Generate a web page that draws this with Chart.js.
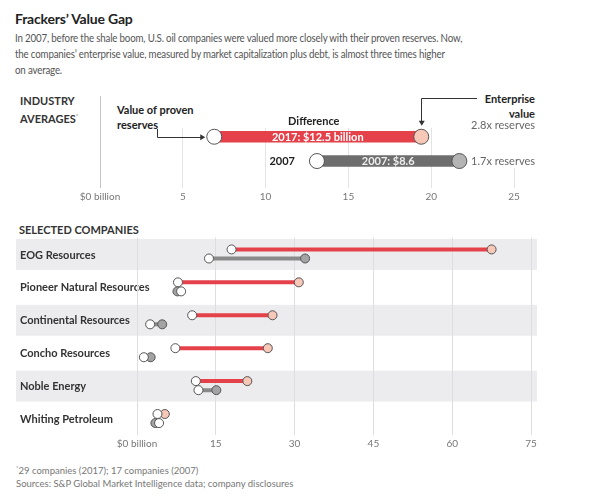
<!DOCTYPE html>
<html lang="en">
<head>
<meta charset="UTF-8">
<title>Frackers' Value Gap</title>
<script src="https://cdn.jsdelivr.net/npm/chart.js"></script>
<style>
    body { margin: 0; background: #fff; font-family: Lato, "Open Sans", sans-serif; color: #222; }
    #page { position: relative; width: 590px; height: 504px; overflow: hidden; }
    .t { position: absolute; white-space: nowrap; }
    .title { left: 15px; top: 9px; font-size: 14px; letter-spacing: -0.2px; font-weight: bold; line-height: 20px; color: #222; }
    .sub { left: 15px; top: 30px; font-size: 11px; letter-spacing: -0.2px; line-height: 15.8px; color: #555;
           transform: scaleX(0.885); transform-origin: 0 0; }
    .lab { font-size: 11px; font-weight: bold; line-height: 15px; color: #333; }
    .note { left: 16px; font-size: 9.5px; line-height: 12px; color: #777; }
    canvas { position: absolute; left: 0; }
</style>
</head>
<body>
<div id="page">
    <div class="t title">Frackers’ Value Gap</div>
    <div class="t sub">In 2007, before the shale boom, U.S. oil companies were valued more closely with their proven reserves. Now,<br>the companies’ enterprise value, measured by market capitalization plus debt, is almost three times higher<br>on average.</div>

    <div class="t lab" style="left:20px; top:93px;">INDUSTRY<br>AVERAGES<sup style="font-size:6px; color:#999;">*</sup></div>
    <div class="t lab" style="left:117px; top:102px; color:#222;">Value of proven<br>reserves</div>
    <div class="t lab" style="right:55px; top:91px; text-align:right; color:#222;">Enterprise<br>value</div>

    <div class="t lab" style="left:19px; top:222px;">SELECTED COMPANIES</div>

    <div class="t note" style="top:462px;"><sup style="font-size:6px;">*</sup>29 companies (2017); 17 companies (2007)</div>
    <div class="t note" style="top:478px;">Sources: S&amp;P Global Market Intelligence data; company disclosures</div>

    <canvas id="avgChart" width="590" height="125" style="top:85px;"></canvas>
    <canvas id="coChart" width="590" height="230" style="top:230px;"></canvas>
</div>

<script>
    // industry averages, $ billion
    const avgYears = ['2017', '2007'];
    const avgReserves = [6.9, 13.1];
    const avgEnterprise = [19.4, 21.7];
    const avgGapLabels = ['2017: $12.5 billion', '2007: $8.6'];
    const avgMultiples = ['2.8x reserves', '1.7x reserves'];

    // selected companies, $ billion
    const companies = ['EOG Resources', 'Pioneer Natural Resources', 'Continental Resources',
                       'Concho Resources', 'Noble Energy', 'Whiting Petroleum'];
    const reserves2017 = [18.0, 7.8, 10.5, 7.3, 11.2, 3.9];
    const value2017    = [67.5, 30.8, 25.8, 24.9, 21.0, 5.3];
    const reserves2007 = [13.7, 8.4, 2.5, 1.3, 11.7, 4.2];
    const value2007    = [32.0, 7.7, 4.8, 2.6, 15.1, 3.5];

    const FONT = 'Lato, "Open Sans", sans-serif';
    const RED = '#e5414b';
    const PEACH = '#f7c7b8';

    function circle(ctx, x, y, r, fill) {
        ctx.beginPath();
        ctx.arc(x, y, r, 0, Math.PI * 2);
        ctx.fillStyle = fill;
        ctx.fill();
        ctx.lineWidth = 1;
        ctx.strokeStyle = '#555';
        ctx.stroke();
    }

    function tickLabel(v) {
        return v === 0 ? '$0 billion' : v;
    }

    // ---- industry averages ----
    const avgPlugin = {
        id: 'avgMarks',
        beforeDatasetsDraw(chart) {
            const ctx = chart.ctx;
            const x = chart.scales.x;
            const els = chart.getDatasetMeta(0).data;
            const zx = Math.round(x.getPixelForValue(0)) + 0.5;
            ctx.save();
            // tall divider at zero
            ctx.strokeStyle = '#c4c4c4';
            ctx.lineWidth = 1;
            ctx.beginPath();
            ctx.moveTo(zx, 11);
            ctx.lineTo(zx, chart.chartArea.top);
            ctx.stroke();
            // keep the multiples text clear of the grid
            ctx.fillStyle = '#fff';
            ctx.fillRect(468, els[0].y - 19, 70, els[1].y - els[0].y + 26);
            ctx.restore();
        },
        afterDatasetsDraw(chart) {
            const ctx = chart.ctx;
            const x = chart.scales.x;
            const els = chart.getDatasetMeta(0).data;
            const ends = [PEACH, '#b4b4b4'];
            ctx.save();
            els.forEach((el, i) => {
                const xs = x.getPixelForValue(avgReserves[i]);
                const xe = x.getPixelForValue(avgEnterprise[i]);
                circle(ctx, xe, el.y, 7.5, ends[i]);
                circle(ctx, xs, el.y, 7.5, '#fff');
                ctx.font = 'bold 11px ' + FONT;
                ctx.textBaseline = 'middle';
                ctx.textAlign = 'center';
                ctx.fillStyle = i === 0 ? '#fff' : '#eee';
                ctx.fillText(avgGapLabels[i], (xs + xe) / 2, el.y + 0.5);
                ctx.font = '11px ' + FONT;
                ctx.textAlign = 'right';
                ctx.fillStyle = '#666';
                ctx.fillText(avgMultiples[i], 535, el.y - (i === 0 ? 11 : 0));
            });
            const y0 = els[0].y, y1 = els[1].y;
            const s0 = x.getPixelForValue(avgReserves[0]);
            const e0 = x.getPixelForValue(avgEnterprise[0]);
            const s1 = x.getPixelForValue(avgReserves[1]);
            ctx.fillStyle = '#222';
            ctx.font = 'bold 11px ' + FONT;
            ctx.textAlign = 'center';
            ctx.fillText('Difference', (s0 + e0) / 2 - 4, y0 - 15);
            ctx.textAlign = 'right';
            ctx.fillText(avgYears[1], s1 - 22, y1);

            // arrows
            ctx.strokeStyle = '#333';
            ctx.lineWidth = 1;
            ctx.beginPath();
            ctx.moveTo(157.5, 44);
            ctx.lineTo(157.5, Math.round(y0) + 0.5);
            ctx.lineTo(s0 - 12, Math.round(y0) + 0.5);
            ctx.stroke();
            ctx.beginPath();
            ctx.moveTo(s0 - 9, y0 + 0.5);
            ctx.lineTo(s0 - 14, y0 - 2.5);
            ctx.lineTo(s0 - 14, y0 + 3.5);
            ctx.fillStyle = '#333';
            ctx.fill();

            ctx.beginPath();
            ctx.moveTo(477, 13.5);
            ctx.lineTo(Math.round(e0) + 0.5, 13.5);
            ctx.lineTo(Math.round(e0) + 0.5, y0 - 15);
            ctx.stroke();
            ctx.beginPath();
            ctx.moveTo(e0 + 0.5, y0 - 11);
            ctx.lineTo(e0 - 2.5, y0 - 16);
            ctx.lineTo(e0 + 3.5, y0 - 16);
            ctx.fill();
            ctx.restore();
        }
    };

    new Chart(document.getElementById('avgChart'), {
        type: 'bar',
        data: {
            datasets: [{
                data: avgYears.map((yr, i) => ({ x: [avgReserves[i], avgEnterprise[i]], y: i })),
                backgroundColor: [RED, '#6e6e6e'],
                barThickness: 11,
                borderWidth: 0
            }]
        },
        options: {
            indexAxis: 'y',
            responsive: false,
            animation: false,
            events: [],
            layout: { padding: { left: 100, right: 76, top: 43, bottom: 2 } },
            plugins: { legend: { display: false }, tooltip: { enabled: false } },
            scales: {
                x: {
                    type: 'linear', min: 0, max: 25,
                    afterFit(s) { s.height = 20; },
                    ticks: { stepSize: 5, callback: tickLabel, padding: 3, color: '#777', font: { family: FONT, size: 10 } },
                    grid: { drawTicks: false, color: c => c.tick && c.tick.value === 0 ? '#c4c4c4' : '#e4e4e4' },
                    border: { display: false }
                },
                y: { type: 'linear', reverse: true, offset: false, min: -0.36, max: 2.11, display: false }
            }
        },
        plugins: [avgPlugin]
    });

    // ---- selected companies ----
    const coPlugin = {
        id: 'coMarks',
        beforeDraw(chart) {
            const ctx = chart.ctx;
            const y = chart.scales.y;
            const step = y.getPixelForValue(1) - y.getPixelForValue(0);
            ctx.save();
            companies.forEach((c, i) => {
                const cy = y.getPixelForValue(i);
                if (i % 2 === 0) {
                    ctx.fillStyle = '#ececef';
                    ctx.fillRect(16, cy - step / 2 + 1.5, 521, step - 2);
                }
                ctx.fillStyle = '#333';
                ctx.font = 'bold 11px ' + FONT;
                ctx.textAlign = 'left';
                ctx.textBaseline = 'middle';
                ctx.fillText(c, 20, cy + 1);
            });
            ctx.restore();
        },
        afterDatasetsDraw(chart) {
            const ctx = chart.ctx;
            const x = chart.scales.x;
            const sets = [
                { res: reserves2017, val: value2017, end: PEACH },
                { res: reserves2007, val: value2007, end: '#a3a3a3' }
            ];
            ctx.save();
            sets.forEach((s, d) => {
                chart.getDatasetMeta(d).data.forEach((el, i) => {
                    circle(ctx, x.getPixelForValue(s.val[i]), el.y, 4.5, s.end);
                    circle(ctx, x.getPixelForValue(s.res[i]), el.y, 4.5, '#fff');
                });
            });
            ctx.restore();
        }
    };

    new Chart(document.getElementById('coChart'), {
        type: 'bar',
        data: {
            labels: companies,
            datasets: [
                { label: '2017', data: companies.map((c, i) => [reserves2017[i], value2017[i]]),
                  backgroundColor: RED, maxBarThickness: 4, categoryPercentage: 0.55, barPercentage: 1 },
                { label: '2007', data: companies.map((c, i) => [reserves2007[i], value2007[i]]),
                  backgroundColor: '#8a8a8a', maxBarThickness: 4, categoryPercentage: 0.55, barPercentage: 1 }
            ]
        },
        options: {
            indexAxis: 'y',
            responsive: false,
            animation: false,
            events: [],
            layout: { padding: { left: 20, right: 59, top: 7.5, bottom: 5 } },
            plugins: { legend: { display: false }, tooltip: { enabled: false } },
            scales: {
                x: {
                    type: 'linear', min: 0, max: 75,
                    afterFit(s) { s.height = 20; },
                    ticks: { stepSize: 15, callback: tickLabel, padding: 3, color: '#777', font: { family: FONT, size: 10 } },
                    grid: { drawTicks: false, color: '#dedede' },
                    border: { display: false }
                },
                y: {
                    afterFit(s) { s.width = 117; },
                    ticks: { display: false },
                    grid: { display: false },
                    border: { display: false }
                }
            }
        },
        plugins: [coPlugin]
    });
</script>
</body>
</html>
